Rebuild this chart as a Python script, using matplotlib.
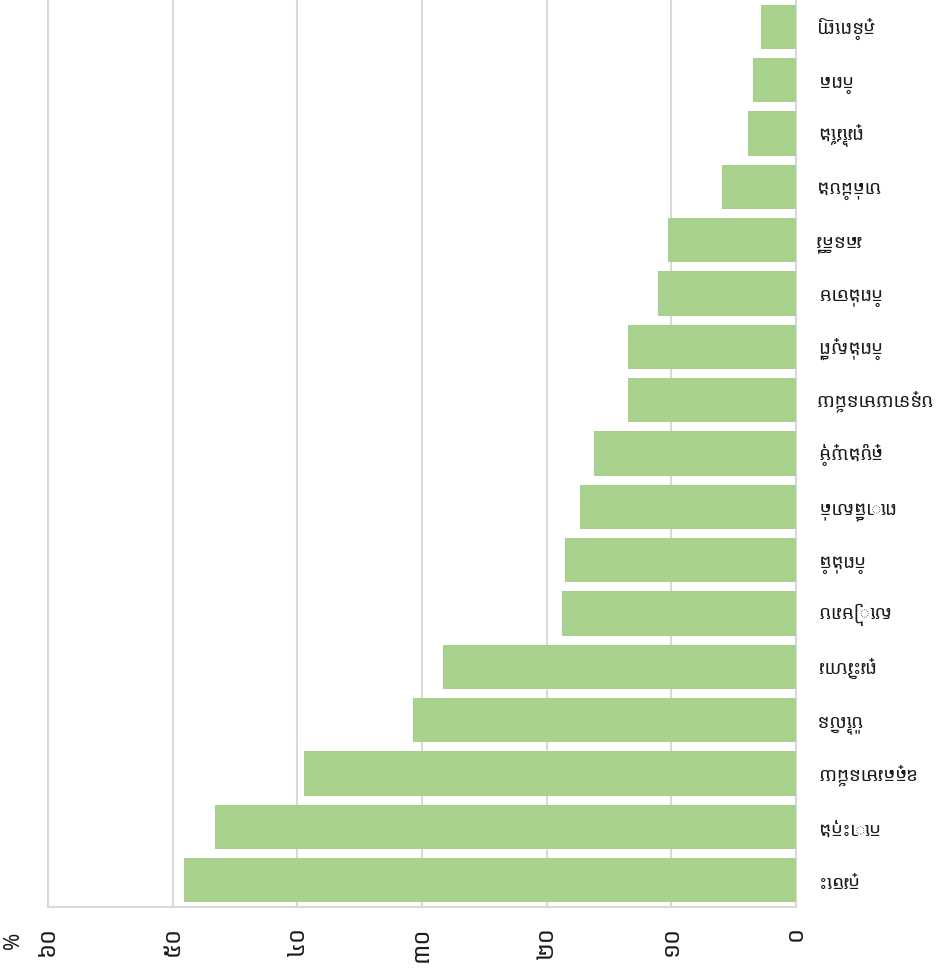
import matplotlib
matplotlib.use("Agg")
import matplotlib.pyplot as plt

# provinces, top bar first
provinces = [
    "ភ្នំពេញ", "កំពត", "ព្រៃវែង", "បាត់ដំបង", "រតនគិរី",
    "កំពង់ចាម", "កំពង់ស្ពឺ", "បន្ទាយមានជ័យ", "ត្បូងឃ្មុំ", "ពោធិ៍សាត់",
    "កំពង់ធំ", "សៀមរាប", "ព្រះវិហារ", "ប៉ៃលិន", "ឧត្តរមានជ័យ",
    "កោះកុង", "ក្រចេះ",
]
percent = [
    2.8, 3.45, 3.85, 5.9, 10.3,
    11.1, 13.5, 13.5, 16.2, 17.3,
    18.5, 18.8, 28.3, 30.7, 39.5,
    46.6, 49.1,
]
ticks = [0, 10, 20, 30, 40, 50, 60]
tick_labels = ["០", "១០", "២០", "៣០", "៤០", "៥០", "៦០"]
unit = "%"

KHMER = ["Noto Sans Khmer", "Khmer OS", "DejaVu Sans"]
GRID = "#d9d9d9"
BAR = "#a9d18e"
TEXT = "#1a1a1a"

plt.rcParams["font.family"] = KHMER

fig = plt.figure(figsize=(9.45, 9.76), dpi=100)
ax = fig.add_axes([48 / 945, 69 / 976, 748 / 945, 907 / 976])

y = list(range(len(provinces)))
ax.barh(y, percent, height=0.83, color=BAR, zorder=3)

ax.set_ylim(len(provinces) - 0.5, -0.5)
ax.set_xlim(60, 0)

ax.set_xticks(ticks)
ax.set_xticklabels(tick_labels, rotation=90, fontsize=17, color=TEXT)
ax.tick_params(axis="x", length=0, pad=14)
ax.xaxis.grid(True, color=GRID, linewidth=1.5, zorder=0)

ax.yaxis.tick_right()
ax.set_yticks(y)
ax.set_yticklabels(provinces, rotation=180, fontsize=13.5, color=TEXT,
                   ha="left", va="center")
ax.tick_params(axis="y", length=0, pad=14)

ax.spines["top"].set_visible(False)
for side in ("left", "right", "bottom"):
    ax.spines[side].set_color(GRID)
    ax.spines[side].set_linewidth(1.5)

fig.text(13 / 945, 1 - 940 / 976, unit, rotation=90, fontsize=15,
         color=TEXT, ha="center", va="center")

fig.savefig("out.png", dpi=100)
